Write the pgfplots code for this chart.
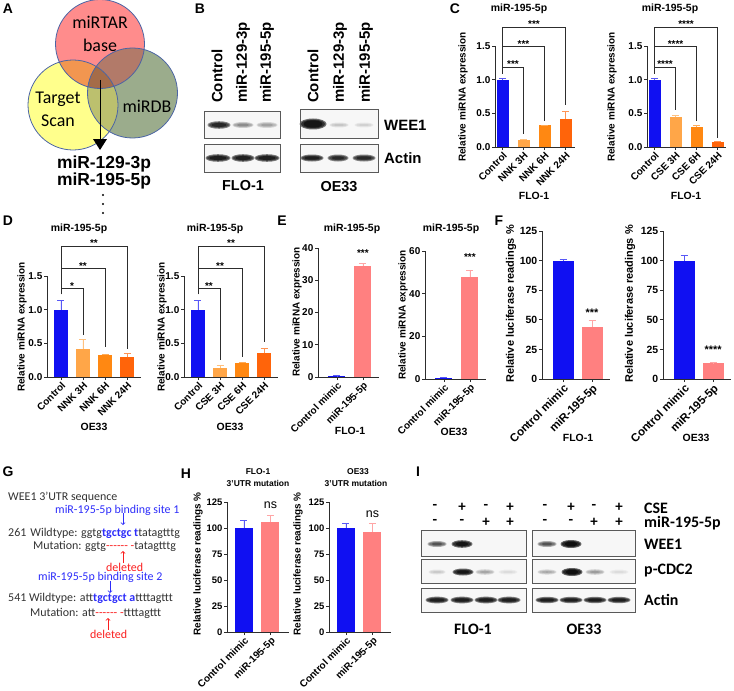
\documentclass[border=0pt]{standalone}
\usepackage{pgfplots}
\pgfplotsset{compat=1.18}
\usepackage{fontspec}
\setmainfont{Liberation Sans}
\newfontfamily\calib{Carlito}
\newcommand{\fs}[1]{\fontsize{#1}{#1}\selectfont}
\definecolor{cblue}{RGB}{16,16,242}
\definecolor{oA}{RGB}{255,166,72}
\definecolor{oB}{RGB}{255,136,18}
\definecolor{oC}{RGB}{255,100,10}
\definecolor{cpink}{RGB}{255,128,128}
\definecolor{axc}{RGB}{45,45,45}
\definecolor{vr}{RGB}{255,140,140}
\definecolor{vy}{RGB}{255,255,140}
\definecolor{vg}{RGB}{155,172,140}
\definecolor{vry}{RGB}{242,150,80}
\definecolor{vrg}{RGB}{178,122,105}
\definecolor{vyg}{RGB}{188,192,110}
\definecolor{vall}{RGB}{165,108,72}
\definecolor{vb}{RGB}{75,100,165}
\definecolor{sblue}{RGB}{45,45,250}
\definecolor{sred}{RGB}{250,30,30}
\definecolor{gtxt}{RGB}{50,50,50}
\pgfplotsset{
 gp/.style={scale only axis, anchor=south west, clip=false,
   axis lines=left, axis line style={-, line width=0.9pt, axc},
   every tick/.style={line width=0.8pt, axc},
   tick align=outside, major tick length=3bp,
   ymin=0, enlargelimits=false,
   /pgf/number format/assume math mode=true,
   x tick label style={rotate=45, anchor=north east, inner sep=0.8bp},
   y tick label style={inner sep=1.5bp},
 },
 dec/.style={yticklabel style={/pgf/number format/fixed, /pgf/number format/fixed zerofill, /pgf/number format/precision=1}},
 gbar/.style={ybar, bar shift=0pt, fill=#1, draw=none, forget plot,
   error bars/.cd, y dir=plus, y explicit,
   error bar style={line width=0.8pt, #1!70!white},
   error mark options={rotate=90, line width=0.8pt, #1!70!white, mark size=3.5bp}},
}
\tikzset{brk/.style={line width=0.65pt, axc},
 star/.style={font=\bfseries\fs{10}, anchor=base, inner sep=0pt, yshift=-0.5bp}}
% band: x y rx ry opacity
\newcommand{\band}[5]{%
  \fill[black,opacity=#5] (#1,#2) ellipse ({#3+1.5} and {#4+1});
  \fill[black,opacity=#5] (#1,#2) ellipse ({#3} and {#4});
  \fill[black,opacity=#5] (#1,#2) ellipse ({#3-2.5} and {#4-0.8});}
\begin{document}
\begin{tikzpicture}
\begin{scope}[x=1bp,y=-1bp]
\path[use as bounding box] (0,0) rectangle (734,691);
% panel letters
\foreach \l/\x/\y in {A/8/9,B/200/9,C/455/9,D/8/221,E/282/221,F/499/221,G/8/472,H/186/474,I/418/472}
  \node[font=\bfseries\fs{14}] at (\x,\y) {\l};
% ---------- A: Venn
\coordinate (R) at (100,44); \coordinate (Y) at (73,105); \coordinate (G) at (132.5,93);
\fill[vy] (Y) circle (45);
\fill[vg] (G) circle (45);
\fill[vr] (R) circle (44.5);
\begin{scope} \clip (R) circle (44.5); \fill[vry] (Y) circle (45); \end{scope}
\begin{scope} \clip (R) circle (44.5); \fill[vrg] (G) circle (45); \end{scope}
\begin{scope} \clip (Y) circle (45); \fill[vyg] (G) circle (45); \end{scope}
\begin{scope} \clip (R) circle (44.5); \clip (Y) circle (45); \fill[vall] (G) circle (45); \end{scope}
\draw[vb, line width=0.8pt] (R) circle (44.5) (Y) circle (45) (G) circle (45);
\node[font=\calib\fs{18}] at (100,22) {miRTAR};
\node[font=\calib\fs{18}] at (100,45) {base};
\node[font=\calib\fs{18}] at (58,99) {Target};
\node[font=\calib\fs{18}] at (58,121) {Scan};
\node[font=\calib\fs{18}] at (147,106) {miRDB};
\draw[line width=0.8pt] (100,80) -- (100,140);
\fill (93,139) -- (107,139) -- (100,150) -- cycle;
\node[font=\bfseries\fs{17.5}] at (104,164) {miR-129-3p};
\node[font=\bfseries\fs{17.5}] at (104,181) {miR-195-5p};
\foreach \yy in {195,204,213} \fill (103,\yy) circle (1.2);
% ---------- B: blots
\foreach \xx/\t in {217/Control,243/miR-129-3p,267/miR-195-5p,313/Control,340/miR-129-3p,366/miR-195-5p}
  \node[rotate=90, anchor=west, font=\bfseries\fs{15}, inner sep=0] at (\xx,103) {\t};
\fill[black!3] (204,111) rectangle (280,138); \fill[black!3] (204,144) rectangle (280,172);
\fill[black!3] (300,109) rectangle (378,138); \fill[black!3] (300,144) rectangle (378,172);
\band{219}{125}{10}{2.8}{0.45}
\band{243}{125}{9}{2}{0.17}
\band{267}{125}{9}{2}{0.13}
\band{218}{158}{11}{2.8}{0.5}
\band{243}{158}{10}{2.8}{0.5}
\band{267}{158}{11}{2.8}{0.5}
\band{313}{124}{12}{4.5}{0.55}
\band{339}{125}{8}{1.5}{0.08}
\band{364}{125}{8}{1.5}{0.06}
\band{312}{158}{10}{2.5}{0.5}
\band{338}{158}{9}{2.5}{0.45}
\band{364}{158}{10}{2.5}{0.45}
\draw[black!65, line width=0.8pt] (204,111) rectangle (280,138) (204,144) rectangle (280,172)
  (300,109) rectangle (378,138) (300,144) rectangle (378,172);
\node[anchor=west, font=\bfseries\fs{15}, inner sep=0] at (384,125) {WEE1};
\node[anchor=west, font=\bfseries\fs{15}, inner sep=0] at (384,158) {Actin};
\node[font=\bfseries\fs{14.5}] at (243,186) {FLO-1};
\node[font=\bfseries\fs{14.5}] at (339,187) {OE33};
% ---------- titles / axis labels for C-F, H
\foreach \x/\y/\t in {519/9/miR-195-5p,670/9/miR-195-5p,79/229/miR-195-5p,215/229/miR-195-5p,352/229/miR-195-5p,451/229/miR-195-5p}
  \node[font=\bfseries\fs{10.5}] at (\x,\y) {\t};
\foreach \x/\y/\t in {534/196/FLO-1,686/196/FLO-1,94/427/OE33,230/427/OE33,350/431/FLO-1,454/432/OE33,578/438/FLO-1,696/438/OE33}
  \node[font=\bfseries\fs{10.5}] at (\x,\y) {\t};
\foreach \x/\y in {463/97,612/97,22/327,162/327,297/312,403/315}
  \node[rotate=90, font=\bfseries\fs{10}] at (\x,\y) {Relative miRNA expression};
\foreach \x/\y in {511/304,630/304}
  \node[rotate=90, font=\bfseries\fs{11}] at (\x,\y) {Relative luciferase readings \%};
\foreach \x/\y in {198/564,298/564}
  \node[rotate=90, font=\bfseries\fs{10}] at (\x,\y) {Relative luciferase readings \%};
\node[font=\bfseries\fs{8.5}] at (258,472) {FLO-1};
\node[font=\bfseries\fs{8.5}] at (258,483) {3'UTR mutation};
\node[font=\bfseries\fs{8.5}] at (358,472) {OE33};
\node[font=\bfseries\fs{8.5}] at (356,483) {3'UTR mutation};
% ---------- G: sequences
\begin{scope}[every node/.style={anchor=west, inner sep=0, font=\calib\fs{12}, text=gtxt}]
\node at (8,497) {WEE1 3’UTR sequence};
\node[text=sblue] at (55,510) {miR-195-5p binding site 1};
\node at (8,533) {261\hspace{4bp}Wildtype: ggtg\textcolor{sblue}{\textbf{tgctgc t}}tatagtttg};
\node at (33,546) {Mutation: ggtg\textcolor{sred}{-{}-{}-{}-{}-{}-} \textcolor{sred}{-}tatagtttg};
\node[text=sred] at (106,567) {deleted};
\node[text=sblue] at (38,577) {miR-195-5p binding site 2};
\node at (8,598) {541 Wildtype: att\textcolor{sblue}{\textbf{tgctgct a}}ttttagttt};
\node at (30,613) {Mutation: att\textcolor{sred}{-{}-{}-{}-{}-{}-} \textcolor{sred}{-}ttttagttt};
\node[text=sred] at (90,634) {deleted};
\end{scope}
\draw[sblue, line width=0.8pt, ->] (123,513) -- (123,525);
\draw[sred, line width=0.8pt, ->] (123,563) -- (123,551);
\draw[sblue, line width=0.8pt, ->] (110,581) -- (110,593);
\draw[sred, line width=0.8pt, ->] (108,630) -- (108,618);
% ---------- I: blots
\foreach \xx/\a/\b in {435/-/-,462/+/-,486/-/+,510/+/+,545/-/-,571/+/-,594/-/+,619/+/+}{
  \node[font=\calib\bfseries\fs{15}] at (\xx,507) {\a};
  \node[font=\calib\bfseries\fs{15}] at (\xx,522) {\b};}
\node[anchor=west, font=\calib\bfseries\fs{16}, inner sep=0] at (644,508) {CSE};
\node[anchor=west, font=\calib\bfseries\fs{16}, inner sep=0] at (644,523) {miR-195-5p};
\node[anchor=west, font=\calib\bfseries\fs{16}, inner sep=0] at (644,544) {WEE1};
\node[anchor=west, font=\calib\bfseries\fs{16}, inner sep=0] at (644,571) {p-CDC2};
\node[anchor=west, font=\calib\bfseries\fs{16}, inner sep=0] at (644,600) {Actin};
\node[font=\calib\bfseries\fs{16}] at (473,629) {FLO-1};
\node[font=\calib\bfseries\fs{16}] at (584,629) {OE33};
\fill[black!3] (421,530) rectangle (526,556); \fill[black!3] (421,559) rectangle (526,583); \fill[black!3] (421,588) rectangle (526,612);
\fill[black!3] (532,530) rectangle (635,556); \fill[black!3] (532,559) rectangle (635,583); \fill[black!3] (532,588) rectangle (635,612);
\band{437}{544}{8}{2}{0.3}
\band{462}{544}{9}{2.8}{0.55}
\band{547}{544}{8}{2}{0.3}
\band{571}{544}{9}{3}{0.6}
\band{437}{572}{7}{1.5}{0.07}
\band{463}{572}{9}{2.5}{0.55}
\band{485}{572}{8}{1.8}{0.12}
\band{508}{572}{8}{1.5}{0.04}
\band{547}{572}{8}{1.6}{0.12}
\band{572}{572}{9}{3}{0.6}
\band{595}{572}{8}{1.8}{0.14}
\band{619}{572}{8}{1.5}{0.04}
\band{437}{600}{10}{2.4}{0.5}
\band{462}{600}{10}{2.4}{0.5}
\band{486}{600}{10}{2.4}{0.5}
\band{509}{600}{10}{2.4}{0.5}
\band{547}{600}{10}{2.2}{0.5}
\band{571}{600}{10}{2.2}{0.5}
\band{595}{600}{10}{2.2}{0.5}
\band{619}{600}{10}{2.2}{0.5}
\draw[black!65, line width=0.8pt] (421,530) rectangle (526,556) (421,559) rectangle (526,583) (421,588) rectangle (526,612)
  (532,530) rectangle (635,556) (532,559) rectangle (635,583) (532,588) rectangle (635,612);
\end{scope}
% ================= C1
\begin{axis}[gp, dec, at={(495bp,-147bp)}, width=80bp, height=101bp, xmin=-0.357, xmax=3.452, ymax=1.5,
  ytick={0,0.5,1,1.5}, xtick={0,1,2,3}, xticklabels={Control,NNK 3H,NNK 6H,NNK 24H}, bar width=12bp,
  tick label style={font=\bfseries\fs{10}}]
\addplot[gbar=cblue] coordinates {(0,1.00) +- (0,0.02)};
\addplot[gbar=oA] coordinates {(1,0.11) +- (0,0.005)};
\addplot[gbar=oB] coordinates {(2,0.32) +- (0,0.006)};
\addplot[gbar=oC] coordinates {(3,0.42) +- (0,0.11)};
\draw[brk] (axis cs:0,1.09) |- (axis cs:1,1.19) -- (axis cs:1,0.19);
\draw[brk] (axis cs:0,1.09) |- (axis cs:2,1.49) -- (axis cs:2,0.39);
\draw[brk] (axis cs:0,1.09) |- (axis cs:3,1.78) -- (axis cs:3,0.62);
\node[star] at (axis cs:0.5,1.19) {***};
\node[star] at (axis cs:1,1.49) {***};
\node[star] at (axis cs:1.5,1.78) {***};
\end{axis}
% ================= C2
\begin{axis}[gp, dec, at={(647bp,-147bp)}, width=79bp, height=101bp, xmin=-0.357, xmax=3.405, ymax=1.5,
  ytick={0,0.5,1,1.5}, xtick={0,1,2,3}, xticklabels={Control,CSE 3H,CSE 6H,CSE 24H}, bar width=12bp,
  tick label style={font=\bfseries\fs{10}}]
\addplot[gbar=cblue] coordinates {(0,1.00) +- (0,0.025)};
\addplot[gbar=oA] coordinates {(1,0.44) +- (0,0.03)};
\addplot[gbar=oB] coordinates {(2,0.29) +- (0,0.03)};
\addplot[gbar=oC] coordinates {(3,0.08) +- (0,0.01)};
\draw[brk] (axis cs:0,1.09) |- (axis cs:1,1.19) -- (axis cs:1,0.55);
\draw[brk] (axis cs:0,1.09) |- (axis cs:2,1.49) -- (axis cs:2,0.38);
\draw[brk] (axis cs:0,1.09) |- (axis cs:3,1.78) -- (axis cs:3,0.14);
\node[star] at (axis cs:0.5,1.19) {****};
\node[star] at (axis cs:1,1.49) {****};
\node[star] at (axis cs:1.5,1.78) {****};
\end{axis}
% ================= D1
\begin{axis}[gp, dec, at={(47bp,-377bp)}, width=94bp, height=101bp, xmin=-0.636, xmax=3.636, ymax=1.5,
  ytick={0,0.5,1,1.5}, xtick={0,1,2,3}, xticklabels={Control,NNK 3H,NNK 6H,NNK 24H}, bar width=14bp,
  tick label style={font=\bfseries\fs{10}}]
\addplot[gbar=cblue] coordinates {(0,1.00) +- (0,0.14)};
\addplot[gbar=oA] coordinates {(1,0.42) +- (0,0.14)};
\addplot[gbar=oB] coordinates {(2,0.33) +- (0,0.006)};
\addplot[gbar=oC] coordinates {(3,0.29) +- (0,0.055)};
\draw[brk] (axis cs:0,1.23) |- (axis cs:1,1.31) -- (axis cs:1,0.63);
\draw[brk] (axis cs:0,1.23) |- (axis cs:2,1.61) -- (axis cs:2,0.45);
\draw[brk] (axis cs:0,1.23) |- (axis cs:3,1.94) -- (axis cs:3,0.42);
\node[star] at (axis cs:0.5,1.31) {*};
\node[star] at (axis cs:1,1.61) {**};
\node[star] at (axis cs:1.5,1.94) {**};
\end{axis}
% ================= D2
\begin{axis}[gp, dec, at={(184bp,-377bp)}, width=94bp, height=101bp, xmin=-0.636, xmax=3.636, ymax=1.5,
  ytick={0,0.5,1,1.5}, xtick={0,1,2,3}, xticklabels={Control,CSE 3H,CSE 6H,CSE 24H}, bar width=14bp,
  tick label style={font=\bfseries\fs{10}}]
\addplot[gbar=cblue] coordinates {(0,1.00) +- (0,0.14)};
\addplot[gbar=oA] coordinates {(1,0.14) +- (0,0.03)};
\addplot[gbar=oB] coordinates {(2,0.21) +- (0,0.01)};
\addplot[gbar=oC] coordinates {(3,0.35) +- (0,0.08)};
\draw[brk] (axis cs:0,1.23) |- (axis cs:1,1.31) -- (axis cs:1,0.25);
\draw[brk] (axis cs:0,1.23) |- (axis cs:2,1.61) -- (axis cs:2,0.30);
\draw[brk] (axis cs:0,1.23) |- (axis cs:3,1.94) -- (axis cs:3,0.52);
\node[star] at (axis cs:0.5,1.31) {**};
\node[star] at (axis cs:1,1.61) {**};
\node[star] at (axis cs:1.5,1.94) {**};
\end{axis}
% ================= E1
\begin{axis}[gp, at={(318bp,-377bp)}, width=61bp, height=129bp, xmin=-0.73, xmax=1.62, ymax=40,
  ytick={0,10,20,30,40}, xtick={0,1}, xticklabels={Control mimic,miR-195-5p}, bar width=17bp,
  tick label style={font=\bfseries\fs{10}}]
\addplot[gbar=cblue] coordinates {(0,0.4) +- (0,0.05)};
\addplot[gbar=cpink] coordinates {(1,34.5) +- (0,0.8)};
\node[star] at (axis cs:1,37.6) {***};
\end{axis}
% ================= E2
\begin{axis}[gp, at={(425bp,-379bp)}, width=61bp, height=128bp, xmin=-0.73, xmax=1.62, ymax=60,
  ytick={0,20,40,60}, xtick={0,1}, xticklabels={Control mimic,miR-195-5p}, bar width=17bp,
  tick label style={font=\bfseries\fs{10}}]
\addplot[gbar=cblue] coordinates {(0,0.7) +- (0,0.1)};
\addplot[gbar=cpink] coordinates {(1,48) +- (0,3)};
\node[star] at (axis cs:1,56) {***};
\end{axis}
% ================= F1
\begin{axis}[gp, at={(542bp,-379bp)}, width=68bp, height=148bp, xmin=-0.724, xmax=1.62, ymax=125,
  ytick={0,25,50,75,100,125}, xtick={0,1}, xticklabels={Control mimic,miR-195-5p}, bar width=21bp,
  y tick label style={font=\bfseries\fs{10.5}}, x tick label style={font=\bfseries\fs{11.5}}]
\addplot[gbar=cblue] coordinates {(0,100) +- (0,1)};
\addplot[gbar=cpink] coordinates {(1,44) +- (0,5.5)};
\node[star, font=\bfseries\fs{11}] at (axis cs:1,53) {***};
\end{axis}
% ================= F2
\begin{axis}[gp, at={(663bp,-379bp)}, width=68bp, height=148bp, xmin=-0.724, xmax=1.62, ymax=125,
  ytick={0,25,50,75,100,125}, xtick={0,1}, xticklabels={Control mimic,miR-195-5p}, bar width=21bp,
  y tick label style={font=\bfseries\fs{10.5}}, x tick label style={font=\bfseries\fs{11.5}}]
\addplot[gbar=cblue] coordinates {(0,100) +- (0,4.5)};
\addplot[gbar=cpink] coordinates {(1,13.5) +- (0,0.3)};
\node[star, font=\bfseries\fs{11}] at (axis cs:1,22) {****};
\end{axis}
% ================= H1
\begin{axis}[gp, at={(227bp,-632bp)}, width=62bp, height=130bp, xmin=-0.64, xmax=1.70, ymax=125,
  ytick={0,25,50,75,100,125}, xtick={0,1}, xticklabels={Control mimic,miR-195-5p}, bar width=18bp,
  y tick label style={font=\bfseries\fs{9.5}}, x tick label style={font=\bfseries\fs{10}}]
\addplot[gbar=cblue] coordinates {(0,100) +- (0,7)};
\addplot[gbar=cpink] coordinates {(1,105.5) +- (0,7)};
\node[font=\fs{12.5}] at (axis cs:1,122) {ns};
\end{axis}
% ================= H2
\begin{axis}[gp, at={(329bp,-632bp)}, width=62bp, height=130bp, xmin=-0.64, xmax=1.70, ymax=125,
  ytick={0,25,50,75,100,125}, xtick={0,1}, xticklabels={Control mimic,miR-195-5p}, bar width=18bp,
  y tick label style={font=\bfseries\fs{9.5}}, x tick label style={font=\bfseries\fs{10}}]
\addplot[gbar=cblue] coordinates {(0,100) +- (0,4)};
\addplot[gbar=cpink] coordinates {(1,96.5) +- (0,8)};
\node[font=\fs{12.5}] at (axis cs:1,113.5) {ns};
\end{axis}
\end{tikzpicture}
\end{document}
